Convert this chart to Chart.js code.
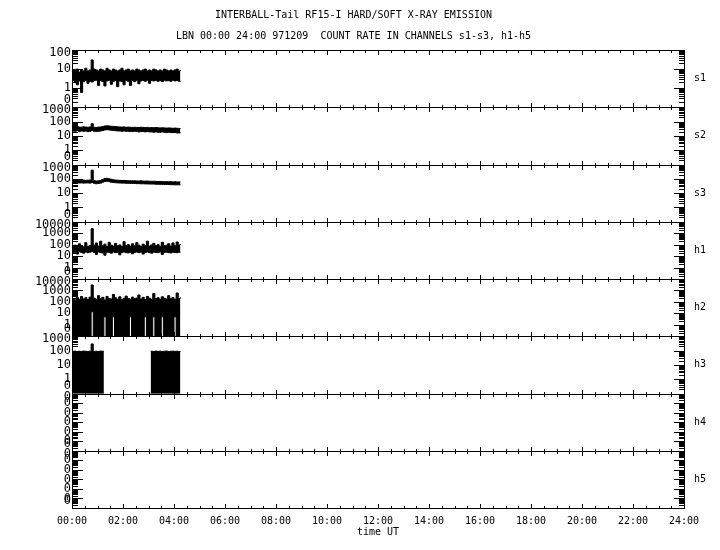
<!DOCTYPE html>
<html>
<head>
<meta charset="utf-8">
<script src="https://cdn.jsdelivr.net/npm/chart.js@4.4.1/dist/chart.umd.min.js"></script>
<style>
  html, body { margin: 0; padding: 0; background: #fff; }
  canvas { display: block; }
</style>
</head>
<body>
<canvas id="c" width="720" height="550"></canvas>
<script>
// ---------------- data ----------------
const TITLE = 'INTERBALL-Tail RF15-I HARD/SOFT X-RAY EMISSION';
const SUBTITLE = 'LBN 00:00 24:00 971209  COUNT RATE IN CHANNELS s1-s3, h1-h5';
const X_TITLE = 'time UT';

const panelNames = ['s1', 's2', 's3', 'h1', 'h2', 'h3', 'h4', 'h5'];
const yMin = [0.1, 0.1, 0.1, 0.1, 0.1, 0.1, 1e-7, 1e-7];
const yMax = [100, 1000, 1000, 10000, 10000, 1000, 0.1, 0.1];
const xTickHours = [0, 2, 4, 6, 8, 10, 12, 14, 16, 18, 20, 22, 24];

// sample times (minutes after 00:00 UT)
const minutes = [0,5,10,15,20,25,30,35,40,45,50,55,60,65,70,75,80,85,90,95,100,105,110,115,120,125,130,135,140,145,150,155,160,165,170,175,180,185,190,195,200,205,210,215,220,225,230,235,240,245,250,255];

// upper / lower envelopes of each count-rate trace
const s1Hi = [9,8,10,7,9,8,11,8,9,30, 10,9,8,10,9,8,11,9,8,10, 9,8,9,11,8,9,10,8,9,8, 10,9,8,9,10,8,9,8,10,9, 8,9,8,10,9,8,9,8,9,10, 8,9];
const s1Lo = [2.5,2.0,1.5,2.4,0.6,2.2,2.6,1.8,2.3,2.1, 2.5,2.6,1.4,2.5,2.2,1.3,2.4,2.6,1.6,2.3, 2.5,1.2,2.4,2.2,1.5,2.6,2.3,1.4,2.5,2.2, 2.6,1.7,2.4,2.5,2.3,2.6,1.8,2.5,2.4,2.6, 2.3,2.5,2.2,2.6,2.4,2.5,2.3,2.6,2.4,2.5, 2.3,2.4];

const s2Hi = [42,40,44,41,40,43,41,40,42,70, 40,38,41,42,45,49,50,49,47,46, 45,43,42,41,42,40,41,40,39,40, 39,38,40,39,38,39,37,38,37,38, 37,36,37,36,35,36,35,34,35,34, 33,34];
const s2Lo = [22,21,23,20,22,21,22,20,21,24, 21,20,21,22,24,26,27,26,25,24, 23,22,22,21,22,21,21,20,20,21, 20,19,20,20,19,20,19,19,18,19, 18,18,19,18,17,18,17,17,17,16, 16,17];

const s3Hi = [80,78,82,79,80,81,78,80,82,400, 75,70,72,78,90,105,108,100,92,85, 82,80,78,76,77,75,74,73,72,73, 71,70,72,70,69,70,68,67,68,66, 65,66,64,63,64,62,63,61,62,60, 61,60];
const s3Lo = [52,50,53,51,52,50,51,52,50,55, 48,45,47,50,58,66,68,64,58,55, 53,52,51,50,50,49,48,48,47,47, 46,46,45,45,44,44,43,43,43,42, 42,41,41,40,40,40,39,39,38,38, 38,37];

const h1Hi = [70,90,60,120,80,65,150,70,85,2500, 90,140,75,200,80,110,70,160,90,75, 130,80,95,70,180,85,100,75,120,80, 150,90,70,110,85,200,75,95,130,80, 100,70,160,85,90,120,75,140,80,170, 95,110];
const h1Lo = [20,22,15,24,21,18,23,20,22,25, 21,14,23,20,19,12,22,21,18,23, 20,22,13,21,23,20,19,22,16,21, 23,20,22,15,21,23,20,18,22,21, 20,23,14,21,22,20,19,22,21,20, 22,21];

const h2Hi = [200,150,250,170,300,180,230,160,260,3000, 210,170,350,190,250,150,300,200,180,450, 230,170,280,160,210,320,200,170,260,190, 220,400,180,250,160,300,210,170,550,200, 230,170,280,210,180,350,190,240,170,600, 200,250];
const h2Lo = [0.1,0.1,0.1,0.1,0.1,0.1,0.1,0.1,0.1,14, 0.1,0.1,0.1,0.1,0.1,5,0.1,0.1,0.1,5, 0.1,0.1,0.1,0.1,0.1,0.1,0.1,5,0.1,0.1, 0.1,0.1,0.1,0.1,5,0.1,0.1,0.1,5,0.1, 0.1,0.1,5,0.1,0.1,0.1,0.1,0.1,5,0.1, 0.1,0.1];

const h3Hi = [88,92,85,90,87,93,89,86,91,290, 88,90,86,92,89,90,
  null,null,null,null,null,null,null,null,null,null,null,null,null,null,null,null,null,null,null,null,null,
  90,87,92,88,91,86,90,93,87,89,91,88,90,86,89];
const h3Lo = [0.1,0.1,0.1,0.1,0.1,0.1,0.1,0.1,0.1,0.1, 0.1,0.1,0.1,0.1,0.1,0.1,
  null,null,null,null,null,null,null,null,null,null,null,null,null,null,null,null,null,null,null,null,null,
  0.1,0.1,0.1,0.1,0.1,0.1,0.1,0.1,0.1,0.1,0.1,0.1,0.1,0.1,0.1];

const h4Vals = [];
const h5Vals = [];

// ---------------- chart ----------------
const MONO = "'DejaVu Sans Mono', monospace";
Chart.defaults.font.family = MONO;
Chart.defaults.color = '#000';

function pts(arr) {
  return arr.map((v, i) => ({ x: minutes[i] / 60, y: v }));
}
function band(id, lo, hi) {
  const common = { yAxisID: id, borderColor: '#000', backgroundColor: '#000', borderWidth: 1, pointRadius: 0, stepped: true, spanGaps: false };
  return [
    Object.assign({ data: pts(lo), fill: false }, common),
    Object.assign({ data: pts(hi), fill: '-1' }, common)
  ];
}

const datasets = [].concat(
  band('s1', s1Lo, s1Hi),
  band('s2', s2Lo, s2Hi),
  band('s3', s3Lo, s3Hi),
  band('h1', h1Lo, h1Hi),
  band('h2', h2Lo, h2Hi),
  band('h3', h3Lo, h3Hi),
  [{ data: h4Vals, yAxisID: 'h4', borderColor: '#000', pointRadius: 0 }],
  [{ data: h5Vals, yAxisID: 'h5', borderColor: '#000', pointRadius: 0 }]
);

function isDecade(v) {
  const l = Math.log10(v);
  return Math.abs(l - Math.round(l)) < 1e-6;
}

const scales = {
  x: {
    type: 'linear', min: 0, max: 24, position: 'bottom',
    afterBuildTicks: s => { s.ticks = xTickHours.map(v => ({ value: v })); },
    ticks: {
      autoSkip: false, maxRotation: 0, padding: 7,
      font: { family: MONO, size: 10 }, color: '#000',
      callback: v => String(v).padStart(2, '0') + ':00'
    },
    grid: { display: false, drawTicks: false },
    border: { display: false },
    title: { display: true, text: X_TITLE, font: { family: MONO, size: 10 }, color: '#000', padding: { top: 0, bottom: 12 } },
    afterFit: s => { s.height = 42; }
  },
  pad: {
    type: 'linear', position: 'right', display: true,
    grid: { display: false, drawTicks: false }, border: { display: false },
    ticks: { display: false },
    afterFit: s => { s.width = 23; }
  }
};

panelNames.forEach((name, i) => {
  scales[name] = {
    type: 'logarithmic',
    position: 'left',
    stack: 'panels',
    stackWeight: 1,
    weight: panelNames.length - i,
    min: yMin[i],
    max: yMax[i],
    afterBuildTicks: s => {
      const e0 = Math.round(Math.log10(s.min)), e1 = Math.round(Math.log10(s.max));
      const t = [];
      for (let e = e0; e <= e1; e++) t.push({ value: Math.pow(10, e) });
      s.ticks = t;
    },
    ticks: {
      autoSkip: false, padding: 1, color: '#000',
      font: c => ({ family: MONO, size: 12, lineHeight: (c.index === c.scale.ticks.length - 1) ? 0.5 : 1.2 }),
      callback: (v, idx, ticks) => {
        if (!isDecade(v)) return '';
        const t = v < 1 ? '0' : String(Math.round(v));
        if (idx === 0) return [t, ''];
        if (idx === ticks.length - 1) return ['', t];
        return t;
      }
    },
    grid: { display: false, drawTicks: false },
    border: { display: false },
    afterFit: s => { s.width = 72; }
  };
});

const panelFrame = {
  id: 'panelFrame',
  afterDatasetsDraw(chart) {
    const ctx = chart.ctx;
    const xs = chart.scales.x;
    const L = Math.round(chart.chartArea.left);
    const R = Math.round(chart.chartArea.right);
    ctx.save();
    ctx.strokeStyle = '#000';
    ctx.lineWidth = 1;
    ctx.beginPath();
    panelNames.forEach(name => {
      const s = chart.scales[name];
      const top = Math.round(s.top), bot = Math.round(s.bottom);
      ctx.moveTo(L, top + 0.5); ctx.lineTo(R + 1, top + 0.5);
      ctx.moveTo(L, bot + 0.5); ctx.lineTo(R + 1, bot + 0.5);
      ctx.moveTo(L + 0.5, top); ctx.lineTo(L + 0.5, bot + 1);
      ctx.moveTo(R + 0.5, top); ctx.lineTo(R + 0.5, bot + 1);
      // logarithmic y ticks, inside on both sides
      const e0 = Math.round(Math.log10(s.min)), e1 = Math.round(Math.log10(s.max));
      for (let e = e0; e <= e1; e++) {
        for (let d = 1; d <= 9; d++) {
          if (e === e1 && d > 1) break;
          const y = Math.round(s.getPixelForValue(d * Math.pow(10, e))) + 0.5;
          const len = d === 1 ? 11 : 6;
          ctx.moveTo(L, y); ctx.lineTo(L + len, y);
          ctx.moveTo(R + 1, y); ctx.lineTo(R + 1 - len, y);
        }
      }
      // time ticks every 30 min, inside top and bottom
      for (let h = 0; h <= 24; h += 0.5) {
        const x = Math.round(xs.getPixelForValue(h)) + 0.5;
        const len = (h % 2 === 0) ? 4 : 2;
        ctx.moveTo(x, top); ctx.lineTo(x, top + len + 1);
        ctx.moveTo(x, bot + 1); ctx.lineTo(x, bot - len);
      }
    });
    ctx.stroke();
    ctx.fillStyle = '#000';
    ctx.font = '10px ' + MONO;
    ctx.textAlign = 'left';
    ctx.textBaseline = 'middle';
    panelNames.forEach(name => {
      const s = chart.scales[name];
      ctx.fillText(name, 694, (s.top + s.bottom) / 2);
    });
    ctx.restore();
  }
};

new Chart(document.getElementById('c'), {
  type: 'line',
  data: { datasets },
  options: {
    responsive: false,
    animation: false,
    devicePixelRatio: 1,
    parsing: true,
    layout: { padding: { left: 0, right: 13, top: 0, bottom: 0 } },
    plugins: {
      legend: { display: false },
      tooltip: { enabled: false },
      title: { display: true, text: TITLE, color: '#000', font: { family: MONO, size: 10, weight: 'normal' }, padding: { top: 9, bottom: 4 } },
      subtitle: { display: true, text: SUBTITLE, color: '#000', font: { family: MONO, size: 10 }, padding: { top: 5, bottom: 8 } }
    },
    scales
  },
  plugins: [panelFrame]
});
</script>
</body>
</html>
